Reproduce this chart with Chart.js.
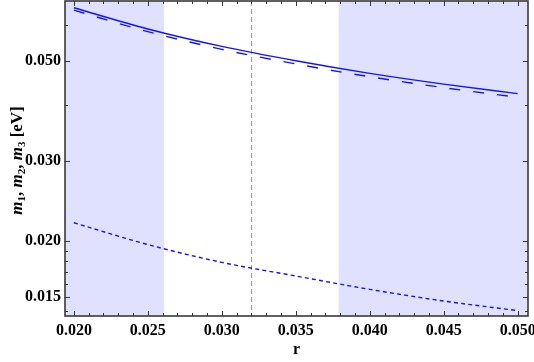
<!DOCTYPE html>
<html>
<head>
<meta charset="utf-8">
<script src="https://cdn.jsdelivr.net/npm/chart.js@4.4.0/dist/chart.umd.min.js"></script>
<style>
  html, body { margin: 0; padding: 0; background: #fff; }
  #wrap { width: 534px; height: 362px; }
</style>
</head>
<body>
<div id="wrap"><canvas id="myChart"></canvas></div>
<script>
// values
var rVals = [0.020, 0.025, 0.030, 0.035, 0.040, 0.045, 0.050];
var m3 = [0.0655, 0.0588, 0.0538, 0.0500, 0.0469, 0.0444, 0.0423];
var m2 = [0.0647, 0.0580, 0.0530, 0.0492, 0.0461, 0.0436, 0.0415];
var m1 = [0.0219, 0.0196, 0.0179, 0.0167, 0.0156, 0.0147, 0.0140];

var xTicks = [0.020, 0.025, 0.030, 0.035, 0.040, 0.045, 0.050];
var xMinor = [0.021, 0.022, 0.023, 0.024, 0.026, 0.027, 0.028, 0.029, 0.031, 0.032, 0.033, 0.034,
              0.036, 0.037, 0.038, 0.039, 0.041, 0.042, 0.043, 0.044, 0.046, 0.047, 0.048, 0.049];
var yTicks = [0.015, 0.020, 0.030, 0.050];
var yMinor = [0.014, 0.016, 0.017, 0.018, 0.019, 0.040, 0.060];

var shadeRanges = [[0.0194, 0.0261], [0.0379, 0.0507]];
var markLine = 0.032;

function pts(ys) {
  var out = [];
  for (var i = 0; i < rVals.length; i++) out.push({x: rVals[i], y: ys[i]});
  return out;
}

var blue = 'rgb(20,20,245)';
var tickFont = {family: "'Liberation Serif', 'DejaVu Serif', serif", size: 16, weight: 'bold'};

var framePlugin = {
  id: 'frame',
  beforeDatasetsDraw: function(chart) {
    var c = chart.ctx, a = chart.chartArea;
    var xs = chart.scales.x;
    c.save();
    c.fillStyle = 'rgb(224,224,255)';
    shadeRanges.forEach(function(r) {
      var x0 = Math.max(a.left, xs.getPixelForValue(r[0]));
      var x1 = Math.min(a.right, xs.getPixelForValue(r[1]));
      c.fillRect(x0, a.top, x1 - x0, a.bottom - a.top);
    });
    // vertical reference line
    var px = Math.round(xs.getPixelForValue(markLine)) + 0.5;
    c.strokeStyle = '#a0a0a0';
    c.lineWidth = 1;
    c.setLineDash([5, 3]);
    c.beginPath();
    c.moveTo(px, a.top);
    c.lineTo(px, a.bottom);
    c.stroke();
    c.restore();
  },
  afterDatasetsDraw: function(chart) {
    var c = chart.ctx, a = chart.chartArea;
    var xs = chart.scales.x, ys = chart.scales.y;
    c.save();
    c.strokeStyle = '#333';
    c.lineWidth = 1;
    c.beginPath();
    function xt(v, len) {
      var p = Math.round(xs.getPixelForValue(v)) + 0.5;
      c.moveTo(p, a.bottom); c.lineTo(p, a.bottom - len);
      c.moveTo(p, a.top); c.lineTo(p, a.top + len);
    }
    function yt(v, len) {
      var p = Math.round(ys.getPixelForValue(v)) + 0.5;
      c.moveTo(a.left, p); c.lineTo(a.left + len, p);
      c.moveTo(a.right, p); c.lineTo(a.right - len, p);
    }
    xTicks.forEach(function(v) { xt(v, 5); });
    xMinor.forEach(function(v) { xt(v, 3); });
    yTicks.forEach(function(v) { yt(v, 5); });
    yMinor.forEach(function(v) { yt(v, 3); });
    c.stroke();
    c.lineWidth = 1.6;
    c.strokeStyle = '#3a3a3a';
    c.strokeRect(a.left, a.top, a.right - a.left, a.bottom - a.top);

    // y axis title with italic m and subscripts
    var parts = [
      ['m', 'italic bold 17px', 0], ['1', 'bold 11px', 3], [', ', 'bold 17px', 0],
      ['m', 'italic bold 17px', 0], ['2', 'bold 11px', 3], [', ', 'bold 17px', 0],
      ['m', 'italic bold 17px', 0], ['3', 'bold 11px', 3], [' [eV]', 'bold 17px', 0]
    ];
    var fam = " 'Liberation Serif', serif";
    var total = 0;
    parts.forEach(function(p) { c.font = p[1] + fam; total += c.measureText(p[0]).width; });
    c.translate(22, (a.top + a.bottom) / 2 + 2);
    c.rotate(-Math.PI / 2);
    c.fillStyle = '#000';
    c.textBaseline = 'alphabetic';
    var x = -total / 2;
    parts.forEach(function(p) {
      c.font = p[1] + fam;
      c.fillText(p[0], x, p[2]);
      x += c.measureText(p[0]).width;
    });
    c.restore();
  }
};

function noPad(s) {
  s.paddingLeft = 0; s.paddingRight = 0; s.paddingTop = 0; s.paddingBottom = 0;
}

var ctx = document.getElementById('myChart').getContext('2d');
var myChart = new Chart(ctx, {
  type: 'line',
  data: {
    datasets: [
      {data: pts(m3), borderColor: blue, borderWidth: 1.4, pointRadius: 0, cubicInterpolationMode: 'monotone'},
      {data: pts(m2), borderColor: blue, borderWidth: 1.4, pointRadius: 0, borderDash: [11, 13], cubicInterpolationMode: 'monotone'},
      {data: pts(m1), borderColor: blue, borderWidth: 1.4, pointRadius: 0, borderDash: [4, 3.2], cubicInterpolationMode: 'monotone'}
    ]
  },
  options: {
    responsive: true,
    maintainAspectRatio: false,
    animation: false,
    layout: {padding: {top: 1, right: 6, left: 0, bottom: 0}},
    plugins: {legend: {display: false}, tooltip: {enabled: false}},
    scales: {
      x: {
        type: 'linear', min: 0.0194, max: 0.0507,
        grid: {display: false, drawTicks: false}, border: {display: false},
        afterBuildTicks: function(s) { s.ticks = xTicks.map(function(v) { return {value: v}; }); },
        afterFit: function(s) { s.height = 46; noPad(s); },
        ticks: {
          color: '#000', font: tickFont, padding: 5, maxRotation: 0, autoSkip: false,
          callback: function(v) { return Number(v).toFixed(3); }
        },
        title: {display: true, text: 'r', color: '#000', font: tickFont, padding: {top: 0, bottom: 3}}
      },
      y: {
        type: 'logarithmic', min: 0.01362, max: 0.0678,
        grid: {display: false, drawTicks: false}, border: {display: false},
        afterBuildTicks: function(s) { s.ticks = yTicks.map(function(v) { return {value: v}; }); },
        afterFit: function(s) { s.width = 65; noPad(s); },
        ticks: {
          color: '#000', font: tickFont, padding: 4, autoSkip: false,
          callback: function(v) { return Number(v).toFixed(3); }
        }
      }
    }
  },
  plugins: [framePlugin]
});
</script>
</body>
</html>
